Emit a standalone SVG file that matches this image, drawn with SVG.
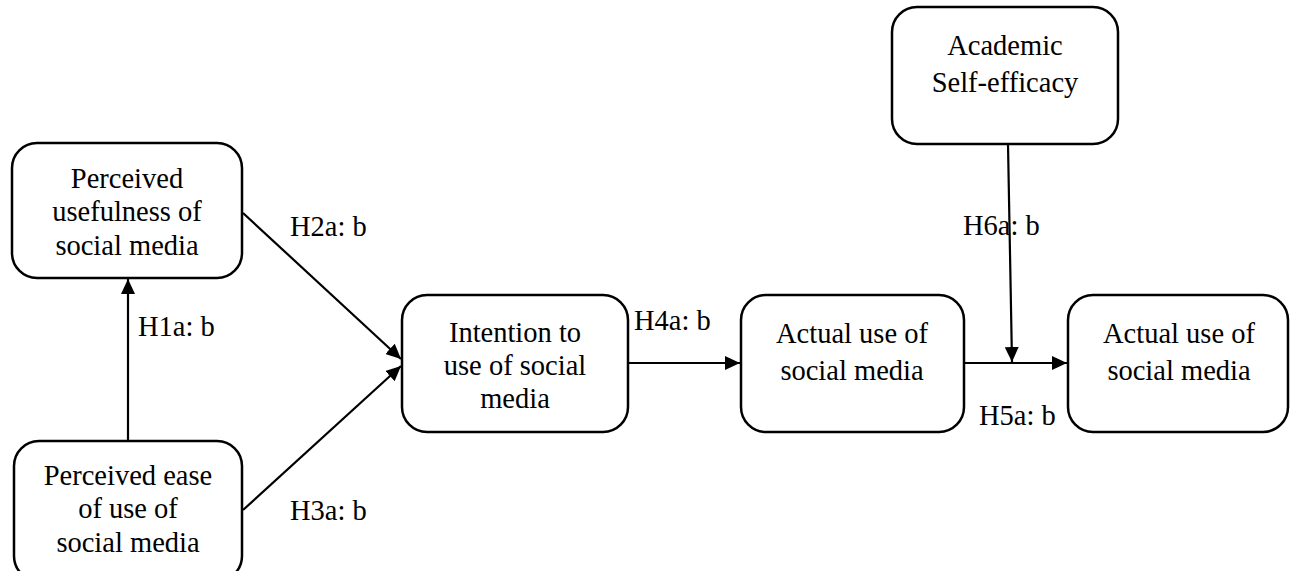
<svg xmlns="http://www.w3.org/2000/svg" width="1292" height="571" viewBox="0 0 1292 571">
<style>
.box{fill:#fff;stroke:#000;stroke-width:2.5}
.t{font-family:"Liberation Serif","Times New Roman",serif;font-size:28.5px;fill:#000}
.c{text-anchor:middle}
.ln{stroke:#000;stroke-width:2.2;fill:none;marker-end:url(#ah)}
</style>
<defs>
<marker id="ah" viewBox="0 0 15 14" refX="15" refY="7" markerWidth="15" markerHeight="14" markerUnits="userSpaceOnUse" orient="auto">
<path d="M0,0 L15,7 L0,14 z" fill="#000"/>
</marker>
</defs>
<rect width="1292" height="571" fill="#fff"/>
<g id="connectors">
<line class="ln" x1="128" y1="441" x2="128" y2="279"/>
<line class="ln" x1="243" y1="213" x2="401" y2="359"/>
<line class="ln" x1="243" y1="510" x2="401" y2="366"/>
<line class="ln" x1="628" y1="363" x2="740" y2="363"/>
<line class="ln" x1="964" y1="363" x2="1067" y2="363"/>
<line class="ln" x1="1008" y1="144" x2="1012" y2="362"/>
</g>
<g id="labels">
<text class="t" x="138" y="336">H1a: b</text>
<text class="t" x="290" y="236">H2a: b</text>
<text class="t" x="290" y="520">H3a: b</text>
<text class="t" x="634" y="330">H4a: b</text>
<text class="t" x="979" y="425">H5a: b</text>
<text class="t" x="963" y="235">H6a: b</text>
</g>
<g id="n1">
<rect class="box" x="12" y="143" width="230" height="135" rx="25"/>
<text class="t c" x="127" y="188">Perceived</text>
<text class="t c" x="127" y="221">usefulness of</text>
<text class="t c" x="127" y="255">social media</text>
</g>
<g id="n2">
<rect class="box" x="14" y="441" width="228" height="140" rx="25"/>
<text class="t c" x="128" y="485">Perceived ease</text>
<text class="t c" x="128" y="518">of use of</text>
<text class="t c" x="128" y="552">social media</text>
</g>
<g id="n3">
<rect class="box" x="402" y="295" width="226" height="137" rx="25"/>
<text class="t c" x="515" y="342">Intention to</text>
<text class="t c" x="515" y="375">use of social</text>
<text class="t c" x="515" y="408">media</text>
</g>
<g id="n4">
<rect class="box" x="741" y="295" width="223" height="137" rx="25"/>
<text class="t c" x="852" y="343">Actual use of</text>
<text class="t c" x="852" y="380">social media</text>
</g>
<g id="n5">
<rect class="box" x="1068" y="295" width="220" height="137" rx="25"/>
<text class="t c" x="1179" y="343">Actual use of</text>
<text class="t c" x="1179" y="380">social media</text>
</g>
<g id="n6">
<rect class="box" x="892" y="7" width="226" height="137" rx="25"/>
<text class="t c" x="1005" y="55">Academic</text>
<text class="t c" x="1005" y="92">Self-efficacy</text>
</g>
</svg>
